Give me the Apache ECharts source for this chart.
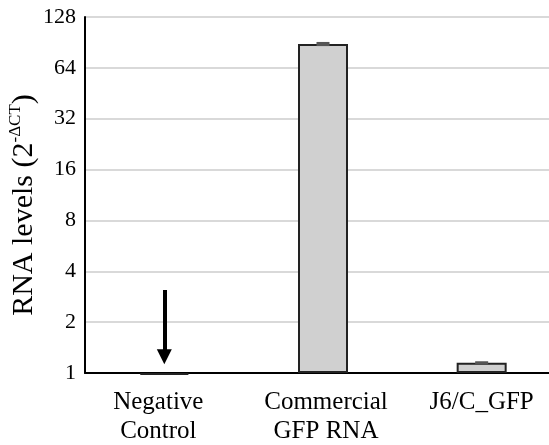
<!DOCTYPE html>
<html><head><meta charset="utf-8">
<script src="https://cdn.jsdelivr.net/npm/echarts@6/dist/echarts.min.js"></script>
<style>html,body{margin:0;padding:0;background:#fff}#c{width:549px;height:445px}</style>
</head><body><div id="c"></div>
<script>
const categories = ['Negative\nControl', 'Commercial\nGFP RNA', 'J6/C_GFP'];
const values = [0.975, 88.6, 1.15];
const errors = [0, 2.5, 0.015];
const yTicks = [1, 2, 4, 8, 16, 32, 64, 128];
const arrowFrom = 3.1, arrowTo = 1.25;

const font = 'Liberation Serif';
const labelPad = [[0, 12, 0, 0], [0, 0, 0, 6], [0, 0, 0, 0]];
const chart = echarts.init(document.getElementById('c'));
chart.setOption({
  animation: false,
  grid: { left: 85, top: 17, bottom: 72, width: 476, outerBoundsMode: 'none', containLabel: false },
  xAxis: {
    type: 'category',
    data: categories.map((c, i) => ({ value: c, textStyle: { padding: labelPad[i] } })),
    axisLine: { lineStyle: { color: '#000', width: 2 } },
    axisTick: { show: false },
    axisLabel: { interval: 0, hideOverlap: false, fontFamily: font, fontSize: 25, color: '#000', lineHeight: 29, margin: 15 }
  },
  yAxis: {
    type: 'log', logBase: 2, min: 1, max: 128, interval: 1,
    axisLine: { show: true, lineStyle: { color: '#000', width: 2 } },
    axisTick: { show: false },
    splitLine: { lineStyle: { color: '#d9d9d9', width: 2 } },
    axisLabel: { fontFamily: font, fontSize: 22, color: '#000', margin: 9,
      formatter: v => String(Math.round(v)) },
    name: '{a|RNA levels (2}{s|-ΔCT}{a|)}',
    nameLocation: 'middle', nameRotate: 90, nameGap: 46, nameMoveOverlap: false,
    nameTextStyle: {
      padding: [0, 20, 0, 0],
      rich: {
        a: { fontFamily: font, fontSize: 30, color: '#000', verticalAlign: 'bottom', lineHeight: 32 },
        s: { fontFamily: font, fontSize: 17, color: '#000', verticalAlign: 'top', lineHeight: 32, padding: [0,0,13,0] }
      }
    }
  },
  series: [
    {
      type: 'bar', data: values, barWidth: 50, clip: false,
      itemStyle: { color: '#d0d0d0', borderColor: '#222', borderWidth: 2 },
      markLine: {
        silent: true, symbol: ['none', 'triangle'], symbolSize: [15, 15],
        label: { show: false },
        lineStyle: { color: '#000', width: 4, type: 'solid' },
        data: [[{ coord: [0, arrowFrom] }, { coord: [0, arrowTo] }]]
      }
    },
    {
      type: 'custom', z: 5,
      data: values.map((v, i) => [i, v, errors[i]]),
      renderItem: (params, api) => {
        const i = api.value(0), v = api.value(1), e = api.value(2);
        if (!e) return null;
        const hi = api.coord([i, v + e]), lo = api.coord([i, v - e]);
        const w = 13;
        const h = Math.max(3, lo[1] - hi[1]);
        return { type: 'rect', shape: { x: hi[0] - w / 2, y: (hi[1] + lo[1]) / 2 - h / 2, width: w, height: h },
          style: { fill: '#555' } };
      }
    }
  ]
});
</script></body></html>
